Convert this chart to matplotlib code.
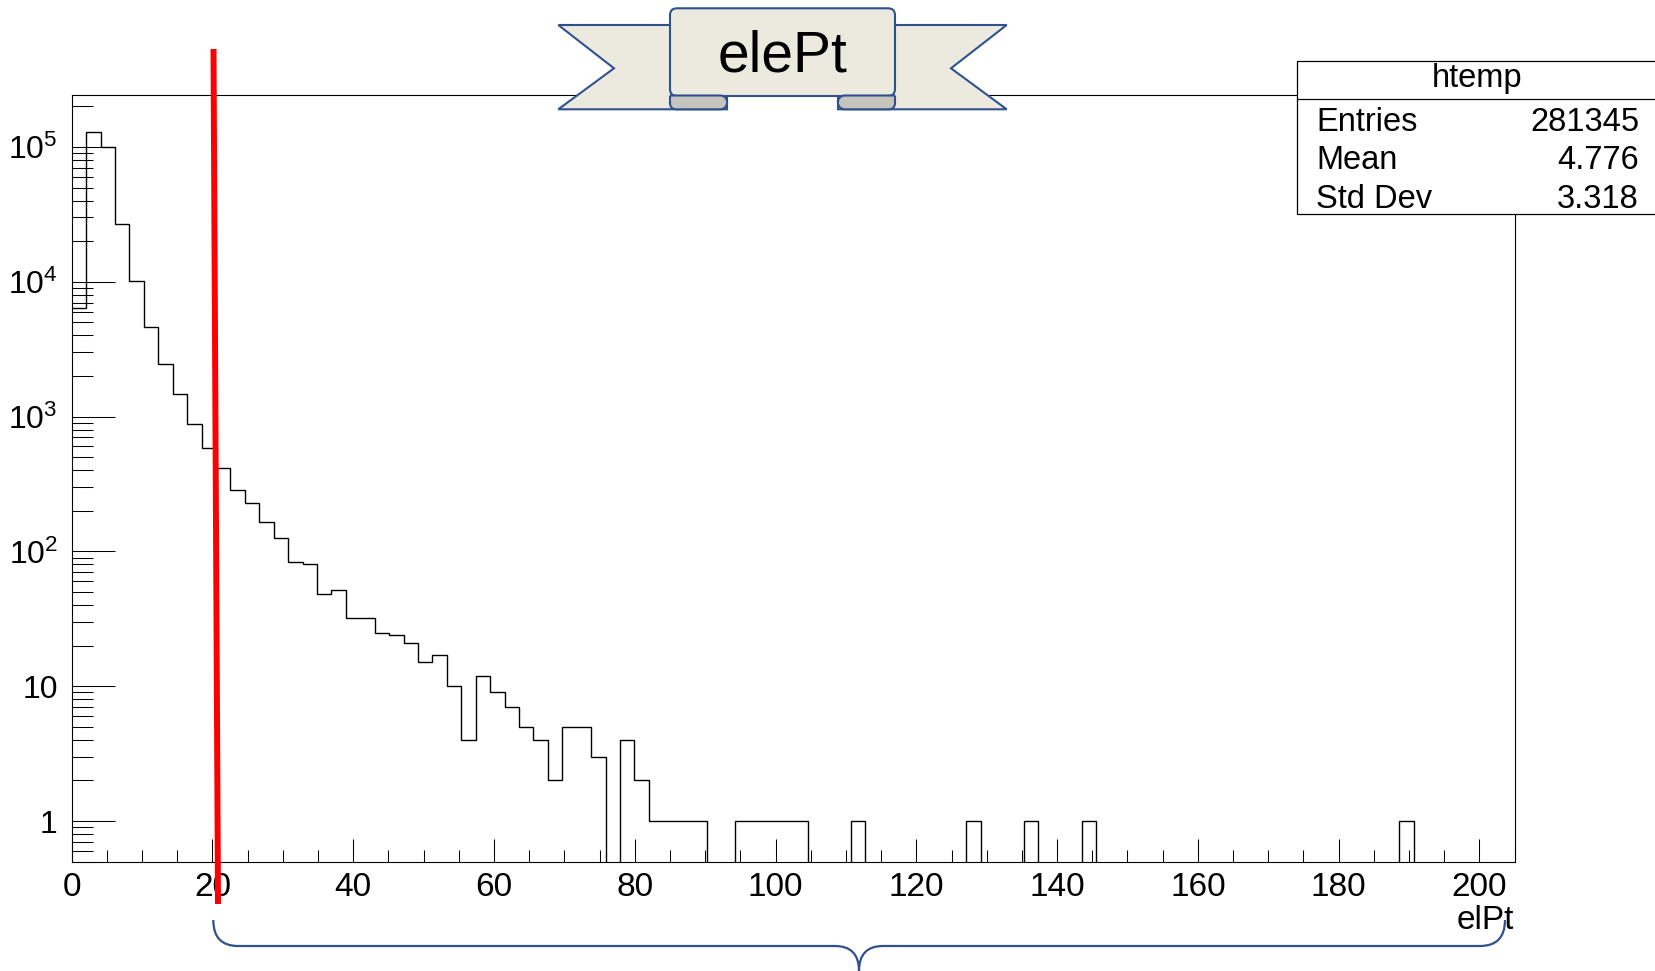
import matplotlib
matplotlib.use('Agg')
import matplotlib.pyplot as plt
import matplotlib.ticker as mticker
from matplotlib.path import Path
from matplotlib.patches import PathPatch, Polygon, FancyBboxPatch, Rectangle
import numpy as np

plt.rcParams.update({
    'font.family': 'Liberation Sans',
    'mathtext.fontset': 'custom',
    'mathtext.rm': 'Liberation Sans',
    'mathtext.it': 'Liberation Sans:italic',
    'mathtext.bf': 'Liberation Sans:bold',
})

# ---- data: elePt histogram, 100 bins of 2.05 from 0 to 205 ----
x_lo, x_hi, n_bins = 0.0, 205.0, 100
counts = [
    6380, 129000, 100000, 27000, 10200, 4610, 2470, 1470, 887, 589,
    415, 283, 228, 166, 125, 84, 81, 48, 52, 32,
    32, 25, 24, 21, 15, 17, 10, 4, 12, 9,
    7, 5, 4, 2, 5, 5, 3, 0, 4, 2,
    1, 1, 1, 1, 0, 0, 1, 1, 1, 1,
    1, 0, 0, 0, 1, 0, 0, 0, 0, 0,
    0, 0, 1, 0, 0, 0, 1, 0, 0, 0,
    1, 0, 0, 0, 0, 0, 0, 0, 0, 0,
    0, 0, 0, 0, 0, 0, 0, 0, 0, 0,
    0, 0, 1, 0, 0, 0, 0, 0, 0, 0,
]
stat_names = ['Entries', 'Mean', 'Std Dev']
stat_values = ['281345', '4.776', '3.318']
hist_name = 'htemp'
title = 'elePt'
x_title = 'elPt'

BLUE = '#2f528f'
BEIGE = '#eceadf'
CURL = '#c6c5bd'

W, H = 1655, 971
fig = plt.figure(figsize=(W / 100, H / 100), dpi=100)

# frame in pixel coords
fl, fr, ft, fb = 71.7, 1514.6, 94.7, 862.3
ax = fig.add_axes([fl / W, (H - fb) / H, (fr - fl) / W, (fb - ft) / H])

edges = np.linspace(x_lo, x_hi, n_bins + 1)
vals = np.array(counts, dtype=float)
vals = np.where(vals > 0, vals, 1e-2)
ax.stairs(vals, edges, color='black', lw=1.0, baseline=None)

ax.set_yscale('log')
ax.set_xlim(x_lo, x_hi)
ax.set_ylim(0.494, 2.44e5)

for s in ax.spines.values():
    s.set_color('black')
    s.set_linewidth(0.8)

ax.xaxis.set_major_locator(mticker.MultipleLocator(20))
ax.xaxis.set_minor_locator(mticker.MultipleLocator(5))
ax.yaxis.set_major_locator(mticker.LogLocator(base=10))
ax.yaxis.set_minor_locator(mticker.LogLocator(base=10, subs=np.arange(2, 10)))
ax.yaxis.set_minor_formatter(mticker.NullFormatter())


def ylab(v, pos):
    e = int(round(np.log10(v)))
    if e == 0:
        return '1'
    if e == 1:
        return '10'
    return r'$10^{%d}$' % e


ax.yaxis.set_major_formatter(mticker.FuncFormatter(ylab))
ax.tick_params(axis='x', which='major', direction='in', length=16.5, width=0.75,
               labelsize=24, pad=7, top=False)
ax.tick_params(axis='x', which='minor', direction='in', length=8.6, width=0.75, top=False)
ax.tick_params(axis='y', which='major', direction='in', length=31, width=0.75,
               labelsize=23, pad=10, right=False)
ax.tick_params(axis='y', which='minor', direction='in', length=15, width=0.75, right=False)

# ---- overlay in pixel coords (y down) ----
ov = fig.add_axes([0, 0, 1, 1], zorder=5)
ov.set_xlim(0, W)
ov.set_ylim(H, 0)
ov.axis('off')
ov.patch.set_alpha(0)

ov.text(1514, 929, x_title, ha='right', va='baseline', fontsize=24)

# stats box
ov.add_patch(Rectangle((1297.3, 60.7), 400, 153.3, facecolor='white',
                       edgecolor='black', lw=0.9, zorder=2))
ov.plot([1297.3, W], [99.3, 99.3], color='black', lw=0.9, zorder=3)
ov.text(1476.7, 87, hist_name, ha='center', va='baseline', fontsize=23.5, zorder=4)
for i, (n, v) in enumerate(zip(stat_names, stat_values)):
    yb = 131 + i * 38.4
    ov.text(1316, yb, n, ha='left', va='baseline', fontsize=23.5, zorder=4)
    ov.text(1639, yb, v, ha='right', va='baseline', fontsize=23.5, zorder=4)

# ribbon title
tail_l = [(558.3, 25), (614, 68.3), (558.3, 109.3), (727, 109.3), (727, 25)]
tail_r = [(1565 - x, y) for x, y in tail_l]
for t in (tail_l, tail_r):
    ov.add_patch(Polygon(t, closed=True, facecolor=BEIGE, edgecolor=BLUE, lw=1.5, zorder=2))
ov.add_patch(FancyBboxPatch((670, 8.3), 225, 87.7, boxstyle='round,pad=0,rounding_size=7',
                            facecolor=BEIGE, edgecolor=BLUE, lw=1.5, zorder=3))
curl = [(670, 95.5), (670, 103), (670, 109.3), (676.5, 109.3), (720, 109.3),
        (729.5, 109.3), (729.5, 95.5), (720, 95.5), (670, 95.5)]
ccodes = [Path.MOVETO, Path.LINETO, Path.CURVE3, Path.CURVE3, Path.LINETO,
          Path.CURVE4, Path.CURVE4, Path.CURVE4, Path.LINETO]
for c in (curl, [(1565 - x, y) for x, y in curl]):
    ov.add_patch(PathPatch(Path(c, ccodes), facecolor=CURL, edgecolor=BLUE, lw=1.5, zorder=4))
ov.text(782.5, 71, title, ha='center', va='baseline', fontsize=41, zorder=5)

# red cut line
ov.plot([213.5, 218], [49, 904], color='#ff0000', lw=4.3, solid_capstyle='butt', zorder=6)

# brace under the x axis
bv = [(213.3, 920), (213.3, 946), (238, 946), (835, 946), (859, 946), (859, 971),
      (859, 946), (883, 946), (1480, 946), (1505, 946), (1505, 920)]
bc = [Path.MOVETO, Path.CURVE3, Path.CURVE3, Path.LINETO, Path.CURVE3, Path.CURVE3,
      Path.CURVE3, Path.CURVE3, Path.LINETO, Path.CURVE3, Path.CURVE3]
ov.add_patch(PathPatch(Path(bv, bc), facecolor='none', edgecolor=BLUE, lw=1.6, zorder=6))

fig.savefig('out.png', dpi=100)
